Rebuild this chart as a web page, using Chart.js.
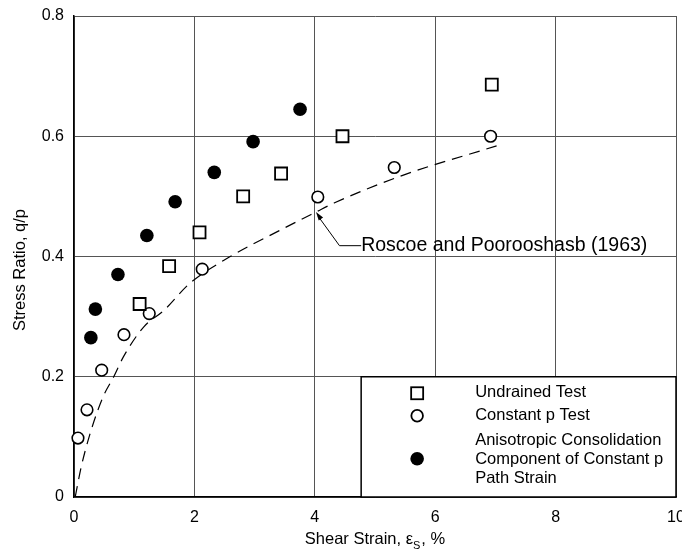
<!DOCTYPE html>
<html><head><meta charset="utf-8">
<script src="https://cdn.jsdelivr.net/npm/chart.js@4/dist/chart.umd.min.js"></script>
<style>html,body{margin:0;padding:0;background:#fff}#wrap{width:682px;height:551px;position:relative}</style>
</head><body><div id="wrap"><canvas id="c"></canvas></div>
<script>
// ---- data ----
const undrainedX = [1.09, 1.58, 2.085, 2.81, 3.44, 4.46, 6.94];
const undrainedY = [0.321, 0.384, 0.440, 0.500, 0.538, 0.600, 0.686];
const constPX = [0.066, 0.216, 0.46, 0.83, 1.25, 2.13, 4.05, 5.32, 6.92];
const constPY = [0.098, 0.145, 0.211, 0.270, 0.305, 0.379, 0.499, 0.548, 0.600];
const anisoX = [0.28, 0.355, 0.73, 1.21, 1.68, 2.33, 2.975, 3.755];
const anisoY = [0.265, 0.3125, 0.370, 0.435, 0.491, 0.540, 0.591, 0.645];
const curveX = [0.02, 0.12, 0.26, 0.48, 0.66, 0.82, 1.16, 1.49, 1.92, 2.58, 3.41, 4.02, 4.32, 5.46, 7.02];
const curveY = [0.0, 0.05, 0.103, 0.166, 0.200, 0.233, 0.283, 0.310, 0.355, 0.399, 0.443, 0.474, 0.489, 0.535, 0.584];
const xTickValues = [0, 2, 4, 6, 8, 10];
const yTickValues = [0, 0.2, 0.4, 0.6, 0.8];
const seriesNames = ['Undrained Test', 'Constant p Test', 'Anisotropic Consolidation\nComponent of Constant p\nPath Strain'];
const curveName = 'Roscoe and Poorooshasb (1963)';
const yTitle = 'Stress Ratio, q/p';

const pts = (xs, ys) => xs.map((x, i) => ({x, y: ys[i]}));
const FONT = '"Liberation Sans", Arial, Helvetica, sans-serif';

const overlay = {
  id: 'overlay',
  afterDraw(chart) {
    const ctx = chart.ctx, xs = chart.scales.x, ys = chart.scales.y, ca = chart.chartArea;
    const X = v => xs.getPixelForValue(v), Y = v => ys.getPixelForValue(v);
    ctx.save();
    ctx.fillStyle = '#000'; ctx.strokeStyle = '#000';

    // y title
    ctx.save();
    ctx.translate(20, 270);
    ctx.rotate(-Math.PI / 2);
    ctx.font = '16.5px ' + FONT;
    ctx.textAlign = 'center'; ctx.textBaseline = 'middle';
    ctx.fillText(yTitle, 0, 0);
    ctx.restore();

    // x title with subscript
    const mainF = '16.5px ' + FONT, subF = '11px ' + FONT;
    const p1 = 'Shear Strain, ', p2 = '\u03B5', p3 = 'S', p4 = ', %';
    ctx.font = mainF; const w1 = ctx.measureText(p1).width, w2 = ctx.measureText(p2).width, w4 = ctx.measureText(p4).width;
    ctx.font = subF; const w3 = ctx.measureText(p3).width;
    const tot = w1 + w2 + w3 + 1 + w4;
    let tx = (ca.left + ca.right) / 2 - tot / 2;
    const base = 544;
    ctx.textAlign = 'left'; ctx.textBaseline = 'alphabetic';
    ctx.font = mainF; ctx.fillText(p1, tx, base); tx += w1;
    ctx.fillText(p2, tx, base); tx += w2;
    ctx.font = subF; ctx.fillText(p3, tx, base + 4.5); tx += w3 + 1;
    ctx.font = mainF; ctx.fillText(p4, tx, base);

    // annotation with arrow
    const tip = {x: X(4.02), y: Y(0.474)};
    const elbow = {x: X(4.41), y: Y(0.418)};
    const lab = {x: X(4.77), y: Y(0.418)};
    ctx.lineWidth = 1;
    ctx.beginPath(); ctx.moveTo(lab.x, lab.y); ctx.lineTo(elbow.x, elbow.y); ctx.lineTo(tip.x + 2, tip.y + 4); ctx.stroke();
    const ang = Math.atan2(tip.y - elbow.y, tip.x - elbow.x);
    ctx.beginPath();
    ctx.moveTo(tip.x, tip.y);
    ctx.lineTo(tip.x - 9 * Math.cos(ang - 0.3), tip.y - 9 * Math.sin(ang - 0.3));
    ctx.lineTo(tip.x - 9 * Math.cos(ang + 0.3), tip.y - 9 * Math.sin(ang + 0.3));
    ctx.closePath(); ctx.fill();
    ctx.font = '19.5px ' + FONT; ctx.textBaseline = 'middle'; ctx.textAlign = 'left';
    ctx.fillText(curveName, lab.x, lab.y);

    // legend box
    const bl = X(4.77), br = X(10), bt = Y(0.2), bb = Y(0);
    ctx.fillStyle = '#fff'; ctx.fillRect(bl, bt, br - bl, bb - bt);
    ctx.lineWidth = 1.5; ctx.strokeStyle = '#000';
    ctx.strokeRect(bl, bt, br - bl, bb - bt);
    const mx = bl + 56, txx = bl + 114;
    ctx.fillStyle = '#000';
    // square
    ctx.lineWidth = 1.8;
    ctx.fillStyle = '#fff'; ctx.fillRect(mx - 6, bt + 16.5 - 6, 12, 12);
    ctx.strokeRect(mx - 6, bt + 16.5 - 6, 12, 12);
    // open circle
    ctx.beginPath(); ctx.arc(mx, bt + 39, 5.8, 0, Math.PI * 2); ctx.fill(); ctx.stroke();
    // filled circle
    ctx.fillStyle = '#000';
    ctx.beginPath(); ctx.arc(mx, bt + 82, 6.8, 0, Math.PI * 2); ctx.fill();
    ctx.font = '16.5px ' + FONT; ctx.textBaseline = 'middle'; ctx.textAlign = 'left';
    ctx.fillText(seriesNames[0], txx, bt + 16);
    ctx.fillText(seriesNames[1], txx, bt + 39);
    const lines = seriesNames[2].split('\n');
    lines.forEach((l, i) => ctx.fillText(l, txx, bt + 64 + i * 18.7));
    ctx.restore();
  }
};

new Chart(document.getElementById('c'), {
  type: 'scatter',
  data: {
    datasets: [
      {label: seriesNames[0], data: pts(undrainedX, undrainedY), pointStyle: 'rect', pointRadius: 8.5,
       backgroundColor: '#fff', borderColor: '#000', borderWidth: 1.8, clip: false},
      {label: seriesNames[1], data: pts(constPX, constPY), pointStyle: 'circle', pointRadius: 5.8,
       backgroundColor: '#fff', borderColor: '#000', borderWidth: 1.6, clip: false},
      {label: 'Anisotropic', data: pts(anisoX, anisoY), pointStyle: 'circle', pointRadius: 6.8,
       backgroundColor: '#000', borderColor: '#000', borderWidth: 0, clip: false},
      {label: curveName, data: pts(curveX, curveY), showLine: true, pointRadius: 0, borderColor: '#000',
       borderWidth: 1.2, borderDash: [11, 7], cubicInterpolationMode: 'monotone', fill: false}
    ]
  },
  options: {
    responsive: true, maintainAspectRatio: false, animation: false, events: [],
    layout: {autoPadding: false, padding: {top: 16, right: 6, left: 0, bottom: 0}},
    plugins: {legend: {display: false}, tooltip: {enabled: false}},
    scales: {
      x: {
        type: 'linear', min: 0, max: 10,
        afterBuildTicks: s => { s.ticks = xTickValues.map(v => ({value: v})); },
        afterFit: s => { s.height = 54; s.paddingLeft = 0; s.paddingRight = 0; },
        ticks: {color: '#000', font: {family: FONT, size: 16}, padding: 11, maxRotation: 0, autoSkip: false},
        grid: {color: '#555', lineWidth: 1, drawTicks: false},
        border: {display: true, color: '#000', width: 1.5}
      },
      y: {
        type: 'linear', min: 0, max: 0.8,
        afterBuildTicks: s => { s.ticks = yTickValues.map(v => ({value: v})); },
        afterFit: s => { s.width = 74; s.paddingTop = 0; s.paddingBottom = 0; },
        ticks: {color: '#000', font: {family: FONT, size: 16}, padding: 10, autoSkip: false},
        grid: {color: '#555', lineWidth: 1, drawTicks: false},
        border: {display: true, color: '#000', width: 1.5}
      }
    }
  },
  plugins: [overlay]
});
</script></body></html>
